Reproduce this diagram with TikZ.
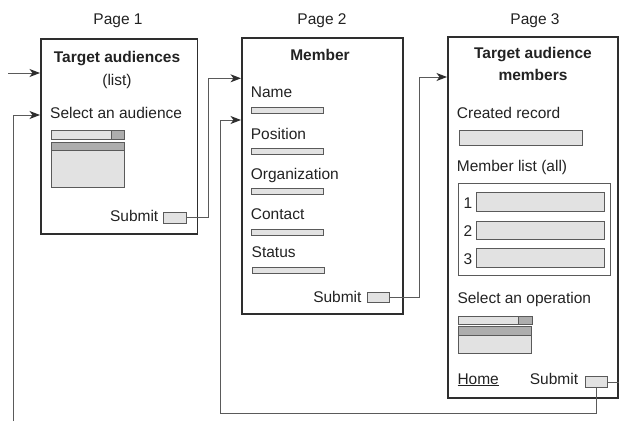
\documentclass[tikz,border=0pt]{standalone}
\usepackage{fontspec}
\setmainfont{Liberation Sans}
\usetikzlibrary{arrows.meta}
\definecolor{boxc}{HTML}{2E2E2E}
\definecolor{linec}{HTML}{5A5A5A}
\definecolor{fieldfill}{HTML}{E2E2E2}
\definecolor{darkfill}{HTML}{ADADAD}
\definecolor{txtc}{HTML}{222222}
\tikzset{
  pagebox/.style={draw=boxc, line width=1.5pt, anchor=north west, inner sep=0pt},
  field/.style={draw=linec, fill=fieldfill, line width=1pt, anchor=north west, inner sep=0pt},
  darkpart/.style={draw=linec, fill=darkfill, line width=1pt, anchor=north west, inner sep=0pt},
  framebox/.style={draw=linec, line width=1pt, anchor=north west, inner sep=0pt},
  txt/.style={text=txtc, inner sep=0pt, font=\fontsize{15.5}{18}\selectfont},
  ttl/.style={txt, font=\fontsize{15.5}{18}\selectfont\bfseries},
  conn/.style={draw=linec, line width=1pt},
  arr/.style={conn, -{Stealth[length=10.5pt,width=8pt,inset=3pt,color=boxc]}}
}
\begin{document}
\begin{tikzpicture}[x=1pt,y=-1pt]
\useasboundingbox (0,0) rectangle (619,421);

% page captions
\node[txt, anchor=base] (cap1) at (118,24) {Page 1};
\node[txt, anchor=base] (cap2) at (322,24) {Page 2};
\node[txt, anchor=base] (cap3) at (535,24) {Page 3};

% ---------- Page 1 ----------
\node[pagebox, minimum width=156.7pt, minimum height=195pt] (box1) at (40,38.3) {};
\node[ttl, anchor=base] (t1) at (117,62.3) {Target audiences};
\node[txt, anchor=base] (t1b) at (117,85) {(list)};
\node[txt, anchor=base west] (sel1) at (50,118.3) {Select an audience};
\node[field, minimum width=73.6pt, minimum height=9pt] (dd1) at (50.7,130) {};
\node[darkpart, minimum width=13.3pt, minimum height=9pt] (dd1b) at (111,130) {};
\node[field, minimum width=73.6pt, minimum height=45pt] (ls1) at (50.7,141.7) {};
\node[darkpart, minimum width=73.6pt, minimum height=8.3pt] (ls1h) at (50.7,141.7) {};
\node[txt, anchor=base east] (sub1t) at (158.5,221.7) {Submit};
\node[field, minimum width=22.4pt, minimum height=11pt] (s1) at (163.3,211.7) {};

% ---------- Page 2 ----------
\node[pagebox, minimum width=161pt, minimum height=276pt] (box2) at (241,37) {};
\node[ttl, anchor=base] (t2) at (320,60.7) {Member};
\node[txt, anchor=base west] (f1t) at (250.7,97.7) {Name};
\node[field, minimum width=72pt, minimum height=6pt] (f1) at (250.7,107.3) {};
\node[txt, anchor=base west] (f2t) at (250.7,139.3) {Position};
\node[field, minimum width=72pt, minimum height=6pt] (f2) at (250.7,148.3) {};
\node[txt, anchor=base west] (f3t) at (250.7,179) {Organization};
\node[field, minimum width=72pt, minimum height=6pt] (f3) at (250.7,188.3) {};
\node[txt, anchor=base west] (f4t) at (250.7,219.3) {Contact};
\node[field, minimum width=72pt, minimum height=6pt] (f4) at (250.7,229.3) {};
\node[txt, anchor=base west] (f5t) at (251.5,257.7) {Status};
\node[field, minimum width=72pt, minimum height=6.5pt] (f5) at (251.7,266.7) {};
\node[txt, anchor=base east] (sub2t) at (361.7,302.7) {Submit};
\node[field, minimum width=22pt, minimum height=10pt] (s2) at (367,292) {};

% ---------- Page 3 ----------
\node[pagebox, minimum width=170pt, minimum height=361pt] (box3) at (447,36) {};
\node[ttl, anchor=base] (t3) at (533,58.3) {Target audience};
\node[ttl, anchor=base] (t3b) at (533,80) {members};
\node[txt, anchor=base west] (crt) at (456.7,118.3) {Created record};
\node[field, minimum width=123pt, minimum height=15pt] (cr) at (459,130) {};
\node[txt, anchor=base west] (mlt) at (456.7,171) {Member list (all)};
\node[framebox, minimum width=151.7pt, minimum height=92.3pt] (ml) at (458.3,182.7) {};
\node[txt, anchor=base west] (n1) at (463.3,208.3) {1};
\node[field, minimum width=128pt, minimum height=19pt] (r1) at (476,192.3) {};
\node[txt, anchor=base west] (n2) at (463.3,236.7) {2};
\node[field, minimum width=128pt, minimum height=18.6pt] (r2) at (476,220.7) {};
\node[txt, anchor=base west] (n3) at (463.3,264.3) {3};
\node[field, minimum width=128pt, minimum height=19pt] (r3) at (476,248.3) {};
\node[txt, anchor=base west] (opt) at (457.3,303.3) {Select an operation};
\node[field, minimum width=74pt, minimum height=8.6pt] (dd3) at (458.3,315.7) {};
\node[darkpart, minimum width=14pt, minimum height=8.6pt] (dd3b) at (518.3,315.7) {};
\node[field, minimum width=72.7pt, minimum height=27.6pt] (ls3) at (458.3,325.7) {};
\node[darkpart, minimum width=72.7pt, minimum height=9.3pt] (ls3h) at (458.3,325.7) {};
\node[txt, anchor=base west] (home) at (457.3,384) {\underline{Home}};
\node[txt, anchor=base east] (sub3t) at (578.3,384) {Submit};
\node[field, minimum width=22.3pt, minimum height=11pt] (s3) at (585,376) {};

% ---------- connectors ----------
\coordinate (in1) at (8,73);
\coordinate (in2) at (13,421);
\coordinate (a1b) at (40,115);
\coordinate (j1) at (208.3,78.3);
\coordinate (a2a) at (241,78.3);
\coordinate (j2) at (419,77);
\coordinate (a3a) at (447,77);
\coordinate (j3) at (220,413);
\coordinate (a2b) at (241,120);

\draw[arr] (in1) -- (in1 -| box1.west);
\draw[arr] (in2) |- (a1b);
\draw[arr] (s1.east) -| (j1) -- (a2a);
\draw[arr] (s2.east) -| (j2) -- (a3a);
\draw[conn] (s3.east) -- (s3.east -| box3.east);
\draw[arr] (s3.south) |- (j3) |- (a2b);
\end{tikzpicture}
\end{document}
